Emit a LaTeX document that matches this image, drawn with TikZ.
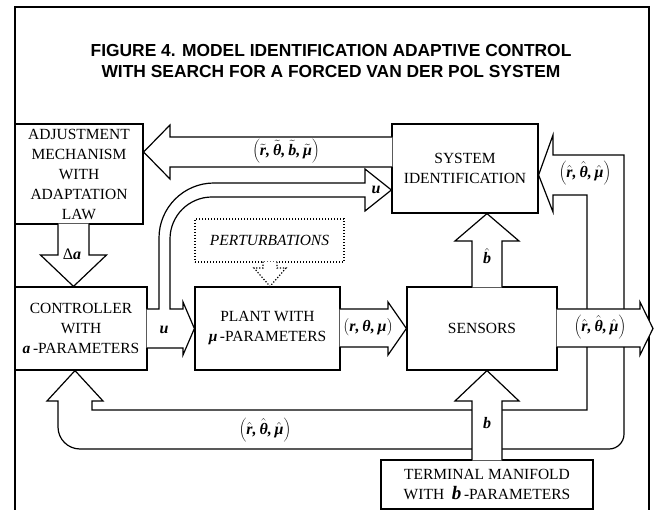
\documentclass[tikz,border=0pt]{standalone}
\usepackage{fontspec}
\setmainfont{Liberation Serif}
\newfontfamily\titlefont{Liberation Sans}
\usetikzlibrary{calc}
\newcommand\mv[1]{\mbox{\bfseries\itshape #1}}

\begin{document}
\begin{tikzpicture}[x=1pt,y=-1pt,
    blk/.style={draw, line width=1.2pt, fill=white, align=center, inner sep=0pt,
      font=\fontsize{15.5}{20}\selectfont},
    dotbox/.style={line width=1.2pt, dash pattern=on 1.2pt off 1.8pt},
    arr/.style={draw, line width=1.2pt, fill=white, line join=miter},
    lbl/.style={font=\fontsize{16}{18}\selectfont, inner sep=1pt}]

  \useasboundingbox (0,0) rectangle (654,510);
  \draw[line width=2.2pt] (15,510) |- (649,7) -- (649,510);

  \node[font=\titlefont\bfseries\fontsize{17.4}{21}\selectfont, align=center] (title) at (331,61)
    {FIGURE 4. MODEL IDENTIFICATION ADAPTIVE CONTROL\\WITH SEARCH FOR A FORCED VAN DER POL SYSTEM};

  % blocks
  \node[blk, minimum width=128pt, minimum height=100pt] (adjust) at (79,174)
    {ADJUSTMENT\\MECHANISM\\WITH\\ADAPTATION\\LAW};
  \node[blk, minimum width=146pt, minimum height=89pt] (sysid) at (465,168.5)
    {SYSTEM\\IDENTIFICATION};
  \node[blk, minimum width=132pt, minimum height=83pt] (ctrl) at (81,328.5)
    {CONTROLLER\\WITH\\\mv{a}\,-PARAMETERS};
  \node[blk, minimum width=145pt, minimum height=83pt] (plant) at (267.5,328.5)
    {PLANT WITH\\\mv{μ}\,-PARAMETERS};
  \node[blk, minimum width=150pt, minimum height=83pt] (sens) at (482,328.5) {SENSORS};
  \node[blk, dotbox, minimum width=149pt, minimum height=43pt] (pert) at (269.5,240.5)
    {\textit{PERTURBATIONS}};
  \node[blk, minimum width=212pt, minimum height=49pt] (term) at (487,484.5)
    {TERMINAL MANIFOLD\\WITH~~{\fontsize{19}{20}\selectfont\mv{b}}\,-PARAMETERS};
  \coordinate (out) at (653,328.5);

  % feedback to identification and controller
  \draw[line width=1.2pt, line join=miter] (553,155) -- (553,135) -- (sysid.east |- 0,175)
    -- (553,212) -- (553,195) -- (587,195) -- (587,410) -- (92,410) -- (92,401)
    -- (103,401) -- (ctrl.south -| 75,0) -- (47,401) -- (58,401) -- (58,427)
    arc[start angle=180, end angle=90, radius=22] -- (609,449)
    arc[start angle=90, end angle=0, radius=15] -- (624,155) -- cycle;

  % block arrows
  \draw[arr] ($(sysid.west |- 0,137)+(1,0)$) -- (170,137) -- (170,125) -- (adjust.east |- 0,152)
    -- (170,179) -- (170,167) -- ($(sysid.west |- 0,167)+(1,0)$);
  \draw[arr] ($(adjust.south -| 58,0)+(0,-1)$) -- (58,255) -- (40.5,255) -- (ctrl.north -| 73.5,0)
    -- (106.5,255) -- (89,255) -- ($(adjust.south -| 89,0)+(0,-1)$);
  \draw[arr] ($(ctrl.east |- 0,309)+(-1,0)$) -- (159,309) -- (159,238)
    arc[start angle=180, end angle=270, radius=55] -- (365,183) -- (365,169)
    -- (sysid.west |- 0,190) -- (365,211) -- (365,197) -- (212,197)
    arc[start angle=270, end angle=180, radius=42] -- (170,309) -- (183,309) -- (183,302)
    -- (plant.west) -- (183,355) -- (183,348) -- ($(ctrl.east |- 0,348)+(-1,0)$);
  \draw[arr] ($(plant.east |- 0,309)+(-1,0)$) -- (388,309) -- (388,302) -- (sens.west)
    -- (388,355) -- (388,347) -- ($(plant.east |- 0,347)+(-1,0)$);
  \draw[arr] ($(sens.east |- 0,309)+(-1,0)$) -- (640,309) -- (640,302) -- (out)
    -- (640,355) -- (640,347) -- ($(sens.east |- 0,347)+(-1,0)$);
  \draw[arr] ($(sens.north -| 472,0)+(0,1)$) -- (472,241) -- (455,241) -- (sysid.south -| 487,0)
    -- (519,241) -- (502,241) -- ($(sens.north -| 502,0)+(0,1)$);
  \draw[arr] ($(term.north -| 472,0)+(0,1)$) -- (472,401) -- (455,401) -- (sens.south -| 487,0)
    -- (519,401) -- (502,401) -- ($(term.north -| 502,0)+(0,1)$);
  \draw[arr, dotbox] ($(pert.south -| 263,0)+(0,-1)$) -- (263,268) -- (254,268) -- (plant.north -| 270,0)
    -- (286,268) -- (277,268) -- ($(pert.south -| 277,0)+(0,-1)$);

  % labels
  \node[lbl] (errlbl) at (286,151) {$\biggl(\tilde{\mv{r}}\mv{,}\,\tilde{\mv{θ}}\mv{,}\,\tilde{\mv{b}}\mv{,}\,\tilde{\mv{μ}}\biggr)$};
  \node[lbl] (sidlbl) at (585,173) {$\biggl(\hat{\mv{r}}\mv{,}\,\hat{\mv{θ}}\mv{,}\,\hat{\mv{μ}}\biggr)$};
  \node[lbl] (fblbl) at (265,430) {$\biggl(\hat{\mv{r}}\mv{,}\,\hat{\mv{θ}}\mv{,}\,\hat{\mv{μ}}\biggr)$};
  \node[lbl] (outlbl) at (600,327) {$\biggl(\hat{\mv{r}}\mv{,}\,\hat{\mv{θ}}\mv{,}\,\hat{\mv{μ}}\biggr)$};
  \node[lbl] (ylbl) at (368,327) {$\Bigl(\mv{r}\mv{,}\,\mv{θ}\mv{,}\,\mv{μ}\Bigr)$};
  \node[lbl] (ulbl) at (164,330) {\mv{u}};
  \node[lbl] (usidlbl) at (376,190) {\mv{u}};
  \node[lbl] (dalbl) at (72,254) {Δ\mv{a}};
  \node[lbl] (bhatlbl) at (487,256) {$\hat{\mv{b}}$};
  \node[lbl] (blbl) at (487,423) {\mv{b}};
\end{tikzpicture}
\end{document}
